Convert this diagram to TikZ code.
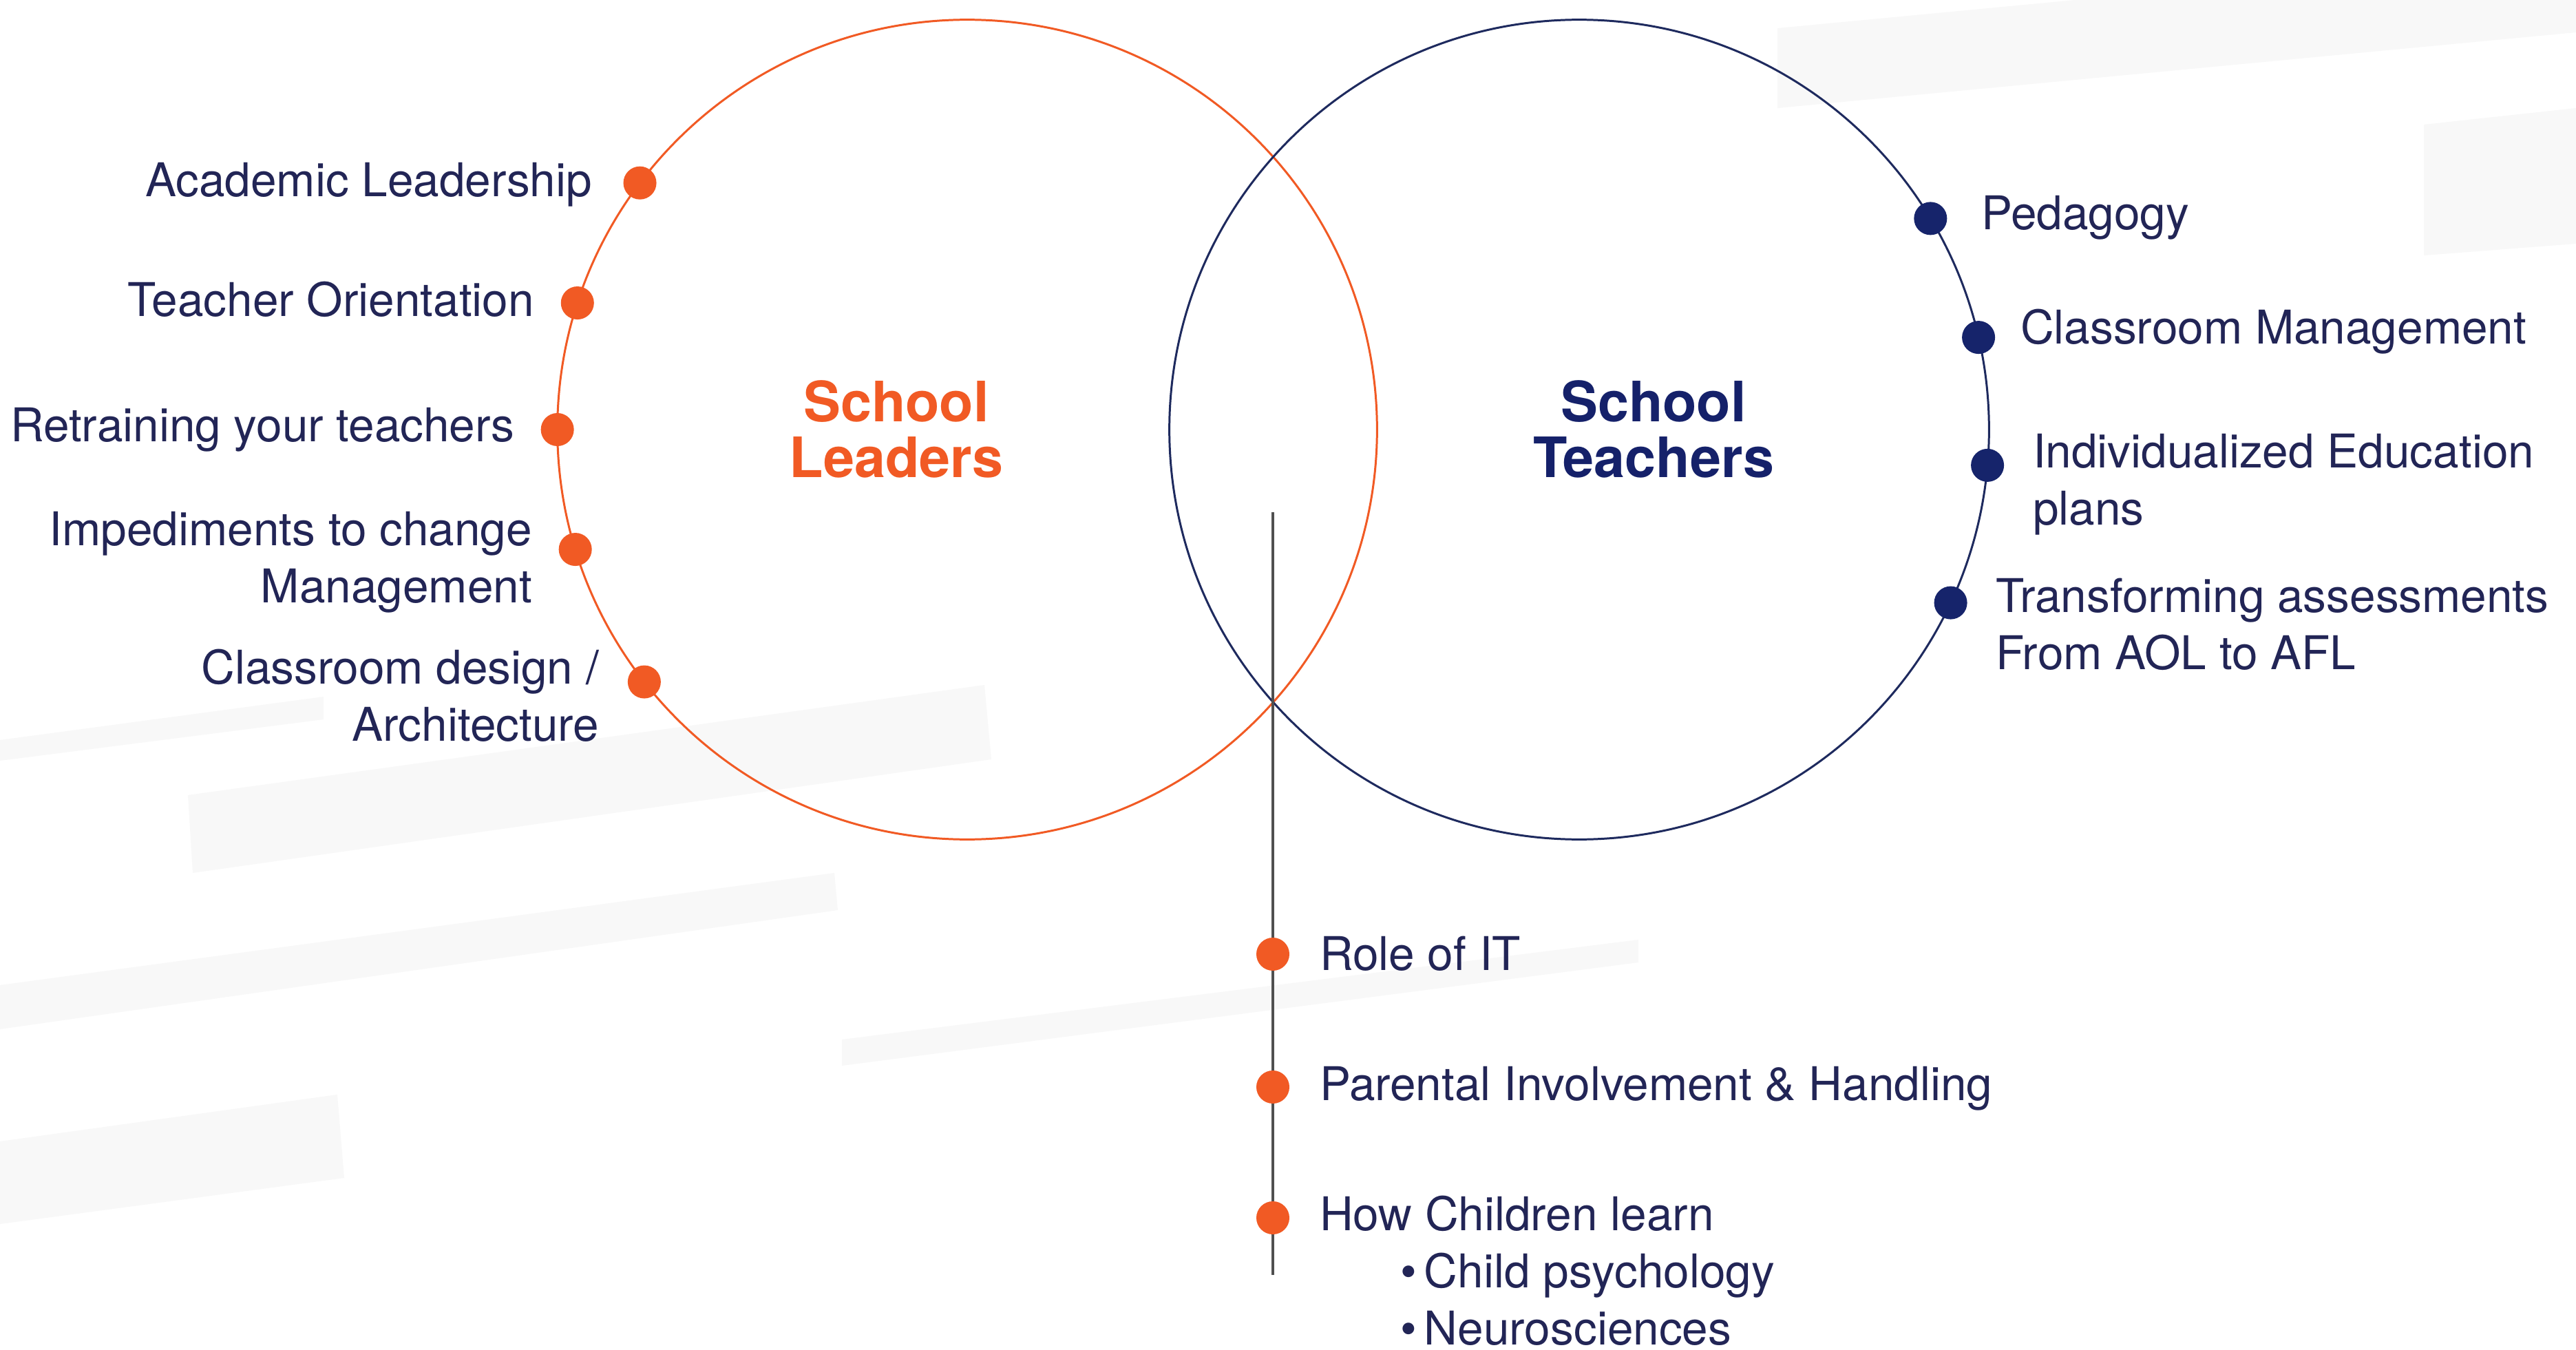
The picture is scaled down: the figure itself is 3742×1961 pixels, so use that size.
\documentclass[tikz,border=0pt]{standalone}
\usepackage{fontspec}
\setmainfont{TeX Gyre Heros}
\definecolor{orng}{HTML}{F15A24}
\definecolor{navyline}{HTML}{1E2A5E}
\definecolor{navydot}{HTML}{16246B}
\definecolor{navyttl}{HTML}{15216A}
\definecolor{txtnavy}{HTML}{222556}
\definecolor{vline}{HTML}{505050}
\definecolor{stripegray}{HTML}{F8F8F8}
\tikzset{
  txt/.style={font=\fontsize{19.2}{23.4}\selectfont, text=txtnavy, inner sep=0pt, outer sep=0pt},
  odot/.style={circle, fill=orng, minimum size=0.48cm, inner sep=0pt},
  ndot/.style={circle, fill=navydot, minimum size=0.48cm, inner sep=0pt},
  ttl/.style={font=\bfseries\fontsize{23}{22.8}\selectfont, align=center, inner sep=0pt},
  stripe/.style={fill=stripegray, draw=none},
  bigcirc/.style={circle, line width=0.85pt, minimum size=11.9cm, inner sep=0pt, outer sep=0pt}
}
\begin{document}
\begin{tikzpicture}[x=0.01cm,y=-0.01cm]
\useasboundingbox[fill=white] (0,0) rectangle (3742,1961);
% background stripes
\fill[stripe] (0,1075) -- (470,1012) -- (470,1045) -- (0,1105) -- cycle;
\fill[stripe] (273,1155) -- (1430,995) -- (1440,1103) -- (280,1268) -- cycle;
\fill[stripe] (0,1431) -- (1212,1268) -- (1217,1322) -- (0,1495) -- cycle;
\fill[stripe] (0,1658) -- (490,1590) -- (500,1711) -- (0,1778) -- cycle;
\fill[stripe] (1223,1510) -- (2380,1365) -- (2380,1398) -- (1223,1548) -- cycle;
\fill[stripe] (2582,41) -- (3742,-69) -- (3742,47) -- (2582,157) -- cycle;
\fill[stripe] (3521,181) -- (3742,157) -- (3742,354) -- (3521,371) -- cycle;
% circles
\node[bigcirc, draw=orng] (L) at (1405,624) {};
\node[bigcirc, draw=navyline] (R) at (2294,624) {};
% vertical line
\coordinate (vtop) at (1849,744);
\coordinate (vbot) at (1849,1852);
\draw[vline, line width=1.3pt] (vtop) -- (vbot);
% titles (base anchor = baseline of last line)
\node[ttl, text=orng, anchor=base] (tl) at (1302,693) {School\\Leaders};
\node[ttl, text=navyttl, anchor=base] (tr) at (2402,693) {School\\Teachers};
% left dots and labels
\node[odot] (l1) at (L.143.25) {};
\node[odot] (l2) at (L.162.2) {};
\node[odot] (l3) at (L.180) {};
\node[odot] (l4) at (L.197.6) {};
\node[odot] (l5) at (L.218.5) {};
\node[txt, anchor=base east] (lt1) at (860,286) {Academic Leadership};
\node[txt, anchor=base east] (lt2) at (776,459) {Teacher Orientation};
\node[txt, anchor=base east] (lt3) at (747,641) {Retraining your teachers};
\node[txt, anchor=base east, align=right] (lt4) at (773,875) {Impediments to change\\Management};
\node[txt, anchor=base east, align=right] (lt5) at (870,1076) {Classroom design /\\Architecture};
% right dots and labels
\node[ndot] (r1) at (R.31.0) {};
\node[ndot] (r2) at (R.13.1) {};
\node[ndot] (r3) at (R.-5.4) {};
\node[ndot] (r4) at (R.-25.9) {};
\node[txt, anchor=base west] (rt1) at (2878,334) {Pedagogy};
\node[txt, anchor=base west] (rt2) at (2935,499) {Classroom Management};
\node[txt, anchor=base west, align=left] (rt3) at (2953,762) {Individualized Education\\plans};
\node[txt, anchor=base west, align=left] (rt4) at (2899,972) {Transforming assessments\\From AOL to AFL};
% bottom dots and labels
\node[odot] (b1) at (1849,1386) {};
\node[odot] (b2) at (1849,1579) {};
\node[odot] (b3) at (1849,1769) {};
\node[txt, anchor=base west] (bt1) at (1917,1409) {Role of IT};
\node[txt, anchor=base west] (bt2) at (1917,1598) {Parental Involvement \& Handling};
\node[txt, anchor=base west, align=left, font=\fontsize{19.2}{23.5}\selectfont] (bt3) at (1917,1953) {How Children learn\\\hspace*{1.17cm}\textbullet\,Child psychology\\\hspace*{1.17cm}\textbullet\,Neurosciences};
\end{tikzpicture}
\end{document}
